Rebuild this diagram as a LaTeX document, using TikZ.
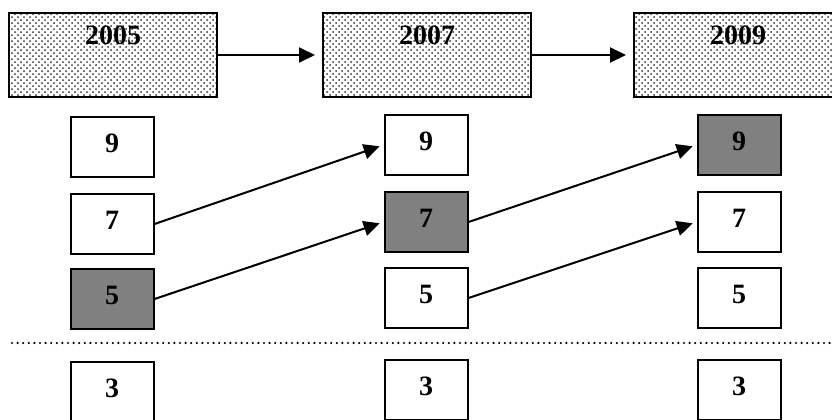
\documentclass[tikz,border=0pt]{standalone}
\usepackage{fontspec}
\setmainfont{Liberation Serif}
\usepackage{tikz}
\usetikzlibrary{arrows.meta,patterns}

\tikzset{
  annee/.style={draw, line width=1pt, preaction={fill=white}, pattern=crosshatch dots,
    pattern color=black!80, minimum width=104pt, inner sep=0pt,
    text height=15.6pt, text depth=26.4pt, font=\bfseries\fontsize{14}{16}\selectfont},
  case/.style={draw, line width=1pt, fill=white, minimum width=41.5pt, inner sep=0pt,
    text height=17.6pt, text depth=12.4pt, font=\bfseries\fontsize{14}{16}\selectfont},
  choix/.style={case, fill=black!50},
  fleche/.style={-{Triangle[length=8pt,width=7.5pt]}, line width=1pt},
  pointille/.style={line width=1.2pt, line cap=round, dash pattern=on 0pt off 2.8pt}
}

\begin{document}
\begin{tikzpicture}[x=0.5pt,y=-0.5pt]
\useasboundingbox (0,0) rectangle (832,419);

% Annees
\node[annee] (a2005) at (113,55) {2005};
\node[annee] (a2007) at (427,55) {2007};
\node[annee] (a2009) at (738,55) {2009};
\draw[fleche, shorten >=3.5pt] (a2005) -- (a2007);
\draw[fleche, shorten >=3.5pt] (a2007) -- (a2009);

% 2005
\node[case]  (c1-9) at (112,147) {9};
\node[case]  (c1-7) at (112,224) {7};
\node[choix] (c1-5) at (112,299) {5};
\node[case]  (c1-3) at (112,392) {3};

% 2007
\node[case]  (c2-9) at (426,145) {9};
\node[choix] (c2-7) at (426,222) {7};
\node[case]  (c2-5) at (426,298) {5};
\node[case]  (c2-3) at (426,390) {3};

% 2009
\node[choix] (c3-9) at (739,145) {9};
\node[case]  (c3-7) at (739,222) {7};
\node[case]  (c3-5) at (739,298) {5};
\node[case]  (c3-3) at (739,390) {3};

% Passages
\draw[fleche, shorten >=2pt] (c1-7.east) -- (c2-9.west);
\draw[fleche, shorten >=2pt] (c1-5.east) -- (c2-7.west);
\draw[fleche, shorten >=2pt] (c2-7.east) -- (c3-9.west);
\draw[fleche, shorten >=2pt] (c2-5.east) -- (c3-7.west);

% Separation
\coordinate (sg) at (12,343);
\coordinate (sd) at (832,343);
\draw[pointille] (sg) -- (sd);

\end{tikzpicture}
\end{document}
